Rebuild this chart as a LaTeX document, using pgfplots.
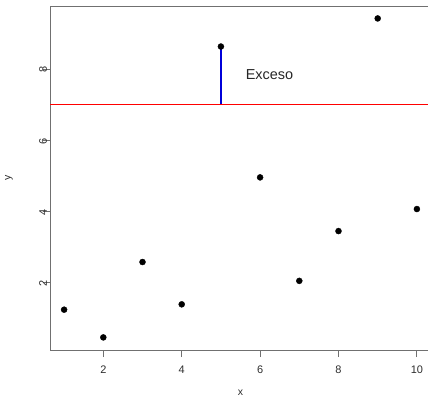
\documentclass[border=0pt]{standalone}
\usepackage{fontspec}
\setmainfont{Liberation Sans}
\usepackage{pgfplots}
\pgfplotsset{compat=1.18}
\definecolor{framegray}{RGB}{112,112,112}
\definecolor{labgray}{RGB}{45,45,45}
\begin{document}
\begin{tikzpicture}[x=1bp,y=1bp]
\begin{axis}[
  at={(50bp,48bp)}, anchor=south west,
  scale only axis, width=381bp, height=344bp,
  xmin=0.64, xmax=10.36, ymin=0.096, ymax=9.77,
  axis x line*=box, axis y line*=left,
  axis line style={framegray, line width=0.8pt},
  xtick={2,4,6,8,10}, ytick={2,4,6,8},
  tick align=outside, tick pos=lower,
  major tick length=7bp,
  tick style={framegray, line width=0.8pt},
  /pgf/number format/assume math mode=true,
  ticklabel style={font=\fontsize{11}{12}\selectfont, text=labgray},
  xticklabel style={anchor=center, yshift=-13bp},
  yticklabel style={rotate=90, anchor=center, xshift=-1bp},
  xlabel={x}, ylabel={y},
  label style={font=\fontsize{10.5}{12}\selectfont, text=labgray},
  xlabel style={at={(axis description cs:0.5,-0.125)}, anchor=center},
  ylabel style={at={(axis description cs:-0.108,0.5)}, anchor=center, rotate=0},
  clip=true,
]
% threshold line
\addplot[red, line width=1.7bp] coordinates {(0.64,7) (10.36,7)};
% excess above the threshold at x = 5
\addplot[blue!85!black, line width=1.5bp] coordinates {(5,7) (5,8.63)};
% observations
\addplot[only marks, mark=*, mark size=3bp, black] coordinates {
  (1,1.23) (2,0.45) (3,2.57) (4,1.38) (5,8.63)
  (6,4.95) (7,2.04) (8,3.44) (9,9.42) (10,4.06)
};
\node[font=\fontsize{14.5}{16}\selectfont, text=black!85] at (axis cs:6.24,7.83) {Exceso};
\end{axis}
\pgfresetboundingbox
\useasboundingbox (0,0) rectangle (428bp,398bp);
\end{tikzpicture}
\end{document}
